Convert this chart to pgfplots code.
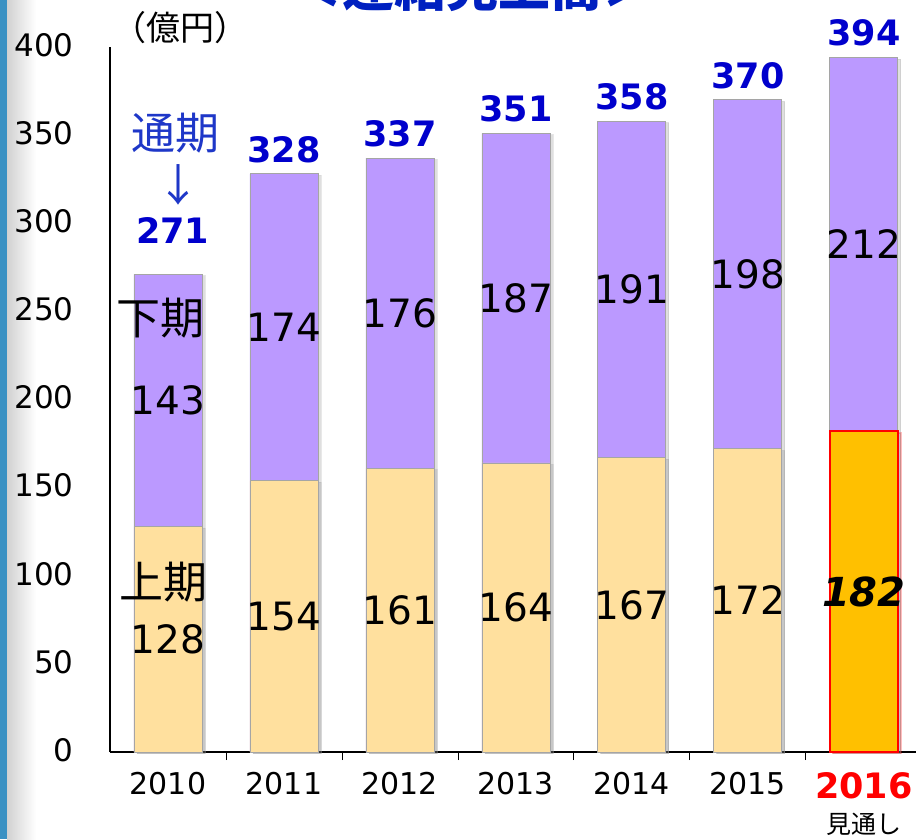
\documentclass[border=0pt]{standalone}
\usepackage{pgfplots}
\pgfplotsset{compat=1.18}
\usepackage{fontspec}
\setmainfont{DejaVu Sans}
\newfontfamily\jp{Noto Sans CJK JP}
\usetikzlibrary{shadows}
\definecolor{lowc}{RGB}{255,224,158}
\definecolor{upc}{RGB}{187,153,255}
\definecolor{fc}{RGB}{255,192,0}
\definecolor{totc}{RGB}{0,0,204}
\definecolor{tsu}{RGB}{30,55,200}
\definecolor{ttl}{RGB}{0,32,192}
\definecolor{strip}{RGB}{58,145,195}
\definecolor{bord}{RGB}{165,165,165}
\begin{document}
\begin{tikzpicture}[x=1pt,y=1pt]
\path[use as bounding box] (0,0) rectangle (916,839);
\fill[strip] (0,0) rectangle (7,839);
\shade[left color=black!18, right color=white] (7,0) rectangle (36,839);
\begin{axis}[at={(110pt,87pt)}, anchor=south west, scale only axis,
  width=806pt, height=705pt,
  xmin=-0.5, xmax=6.45, ymin=0, ymax=400,
  axis x line*=bottom, axis y line*=left,
  axis line style={black, line width=1.6pt},
  ytick={0,50,...,400}, xtick={0,...,6},
  xticklabels={2010,2011,2012,2013,2014,2015,{{\fontsize{35}{37}\selectfont\bfseries\color{red}2016}\\{\jp\fontsize{25}{30}\selectfont 見通し}}},
  minor xtick={0.5,1.5,2.5,3.5,4.5,5.5},
  major tick length=0pt, minor tick length=8pt, tick align=inside,
  tick style={black, line width=0.8pt},
  /pgf/number format/assume math mode=true,
  yticklabel style={font=\fontsize{31}{36}\selectfont, anchor=east, xshift=-33pt, yshift=2pt},
  xticklabel style={font=\fontsize{30}{35}\selectfont, anchor=north, yshift=-17pt, align=center},
  ybar, bar width=68pt, clip=false,
]
\addplot[fill=upc, draw=bord, line width=0.8pt, bar shift=0pt,
  drop shadow={opacity=0.25, shadow xshift=3pt, shadow yshift=-1.5pt}]
  coordinates {(0,271)(1,328)(2,337)(3,351)(4,358)(5,370)(6,394)};
\addplot[fill=lowc, draw=bord, line width=0.8pt, bar shift=0pt,
  drop shadow={opacity=0.25, shadow xshift=3pt, shadow yshift=-1.5pt}]
  coordinates {(0,128)(1,154)(2,161)(3,164)(4,167)(5,172)};
\addplot[fill=fc, draw=red, line width=1.8pt, bar shift=0pt,
  drop shadow={opacity=0.25, shadow xshift=3pt, shadow yshift=-1.5pt}]
  coordinates {(6,182)};
% lower-half labels
\node[font=\fontsize{39}{40}\selectfont] at (axis cs:0,64) {128};
\node[font=\fontsize{39}{40}\selectfont] at (axis cs:1,77) {154};
\node[font=\fontsize{39}{40}\selectfont] at (axis cs:2,80.5) {161};
\node[font=\fontsize{39}{40}\selectfont] at (axis cs:3,82) {164};
\node[font=\fontsize{39}{40}\selectfont] at (axis cs:4,83.5) {167};
\node[font=\fontsize{39}{40}\selectfont] at (axis cs:5,86) {172};
\node[font=\fontsize{40}{40}\selectfont\bfseries\itshape] at (axis cs:6,91) {182};
% upper-half labels
\node[font=\fontsize{39}{40}\selectfont] at (axis cs:0,199.5) {143};
\node[font=\fontsize{39}{40}\selectfont] at (axis cs:1,241) {174};
\node[font=\fontsize{39}{40}\selectfont] at (axis cs:2,249) {176};
\node[font=\fontsize{39}{40}\selectfont] at (axis cs:3,257.5) {187};
\node[font=\fontsize{39}{40}\selectfont] at (axis cs:4,262.5) {191};
\node[font=\fontsize{39}{40}\selectfont] at (axis cs:5,271) {198};
\node[font=\fontsize{39}{40}\selectfont] at (axis cs:6,288) {212};
% totals
\node[font=\fontsize{35}{36}\selectfont\bfseries, text=totc, anchor=south, inner sep=0pt, yshift=31pt] at (axis cs:0.04,271) {271};
\node[font=\fontsize{35}{36}\selectfont\bfseries, text=totc, anchor=south, inner sep=0pt, yshift=11pt] at (axis cs:1,328) {328};
\node[font=\fontsize{35}{36}\selectfont\bfseries, text=totc, anchor=south, inner sep=0pt, yshift=11pt] at (axis cs:2,337) {337};
\node[font=\fontsize{35}{36}\selectfont\bfseries, text=totc, anchor=south, inner sep=0pt, yshift=11pt] at (axis cs:3,351) {351};
\node[font=\fontsize{35}{36}\selectfont\bfseries, text=totc, anchor=south, inner sep=0pt, yshift=11pt] at (axis cs:4,358) {358};
\node[font=\fontsize{35}{36}\selectfont\bfseries, text=totc, anchor=south, inner sep=0pt, yshift=11pt] at (axis cs:5,370) {370};
\node[font=\fontsize{35}{36}\selectfont\bfseries, text=totc, anchor=south, inner sep=0pt, yshift=11pt] at (axis cs:6,394) {394};
\end{axis}
% annotations (pixel coordinates)
\node[font=\jp\fontsize{34}{36}\selectfont] at (180,811) {（億円）};
\node[font=\jp\fontsize{44}{46}\selectfont, text=tsu] at (175,706) {通期};
\node[font=\jp\fontsize{44}{46}\selectfont, text=tsu] at (178,654) {↓};
\node[font=\jp\fontsize{44}{46}\selectfont] at (160,521) {下期};
\node[font=\jp\fontsize{44}{46}\selectfont] at (163,257) {上期};
\node[font=\jp\fontsize{52}{56}\selectfont\bfseries, text=ttl, anchor=base] at (472,832) {＜連結売上高＞};
\end{tikzpicture}
\end{document}
